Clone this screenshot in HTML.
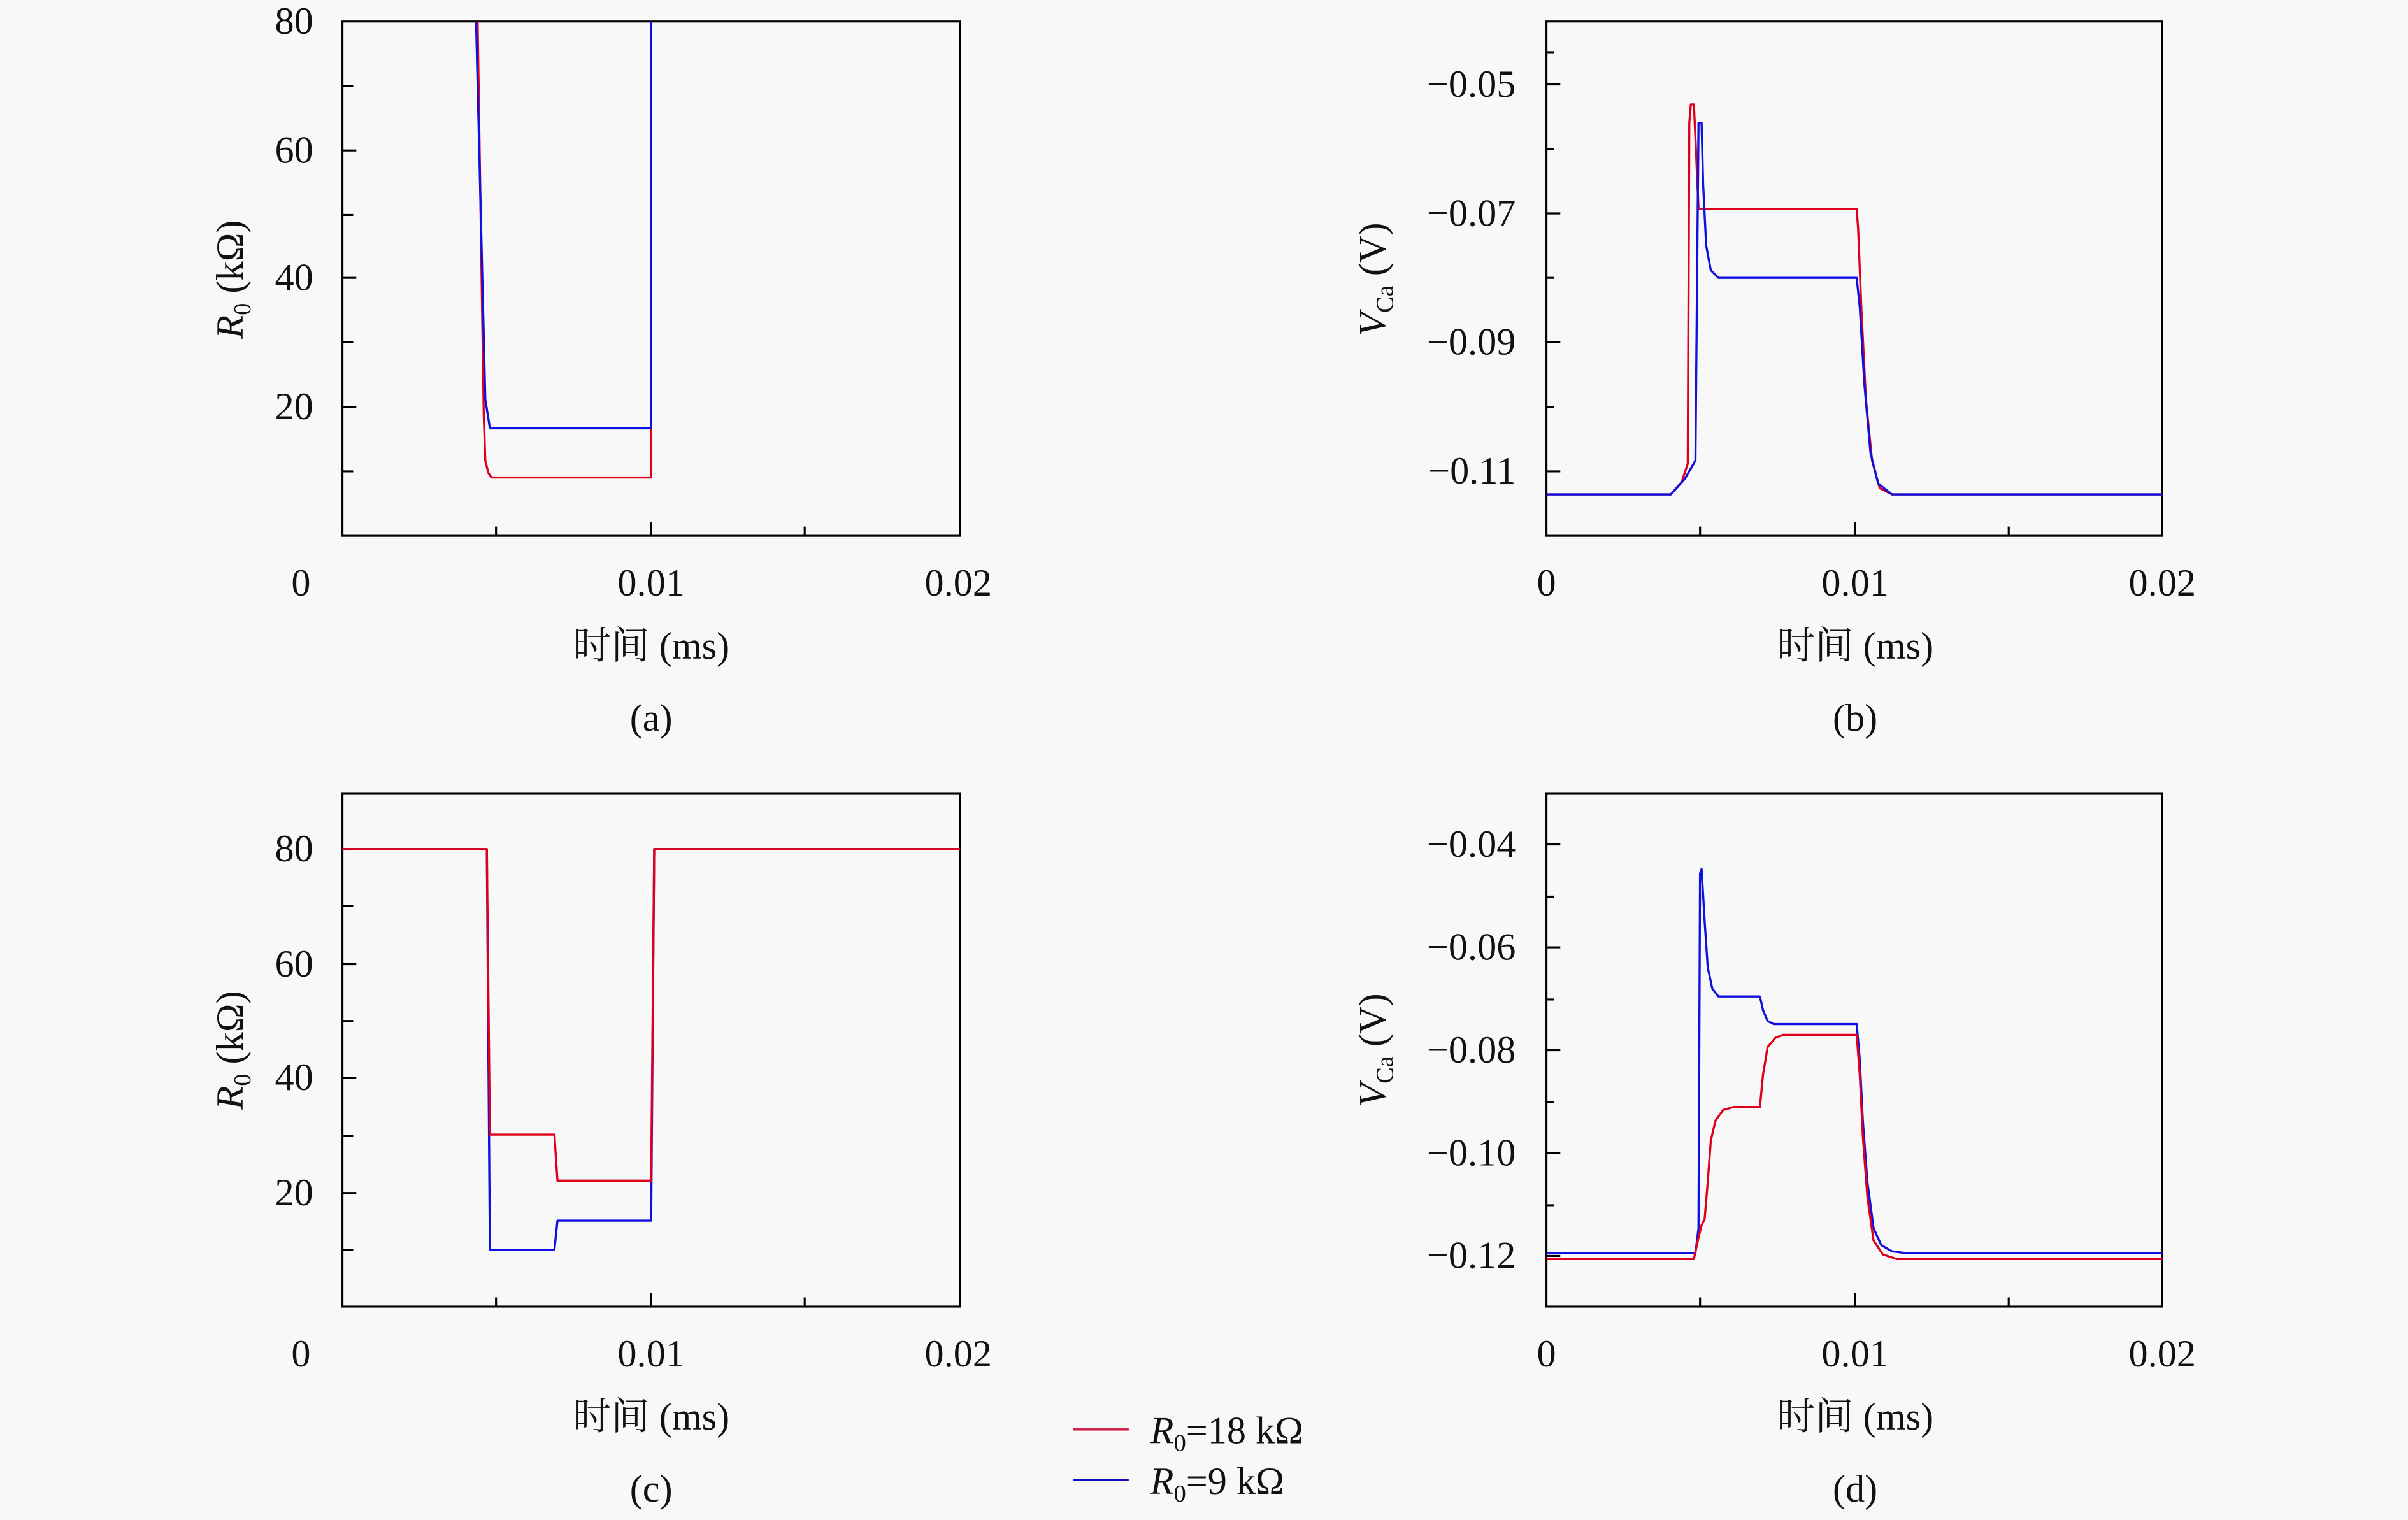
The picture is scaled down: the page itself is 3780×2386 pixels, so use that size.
<!DOCTYPE html>
<html><head><meta charset="utf-8"><style>
html,body{margin:0;padding:0;background:#f8f8f8;}
svg{display:block;}
text{font-family:"Liberation Serif","Noto Serif CJK SC",serif;font-size:25px;fill:#111;}
</style></head><body>
<svg width="3780" height="2386" viewBox="0 0 1568 990" preserveAspectRatio="none" xmlns="http://www.w3.org/2000/svg">
<rect width="1568" height="990" fill="#f8f8f8"/>
<g fill="none" stroke="#000" stroke-width="1.3">
<rect x="223" y="14" width="402" height="335"/>
<rect x="1007" y="14" width="401" height="335"/>
<rect x="223" y="517" width="402" height="334"/>
<rect x="1007" y="517" width="401" height="334"/>
<path d="M223 56h7M223 98h9M223 140h7M223 181h9M223 223h7M223 265h9M223 307h7M323 349v-6M424 349v-9M524 349v-6"/>
<path d="M1007 34h5M1007 55h9M1007 97h5M1007 139h9M1007 181h5M1007 223h9M1007 265h5M1007 307h9M1107 349v-6M1208 349v-9M1308 349v-6"/>
<path d="M223 553h9M223 590h7M223 628h9M223 665h7M223 702h9M223 740h7M223 777h9M223 814h7M323 851v-6M424 851v-9M524 851v-6"/>
<path d="M1007 550h9M1007 584h5M1007 617h9M1007 651h5M1007 684h9M1007 718h5M1007 751h9M1007 785h5M1007 818h9M1107 851v-6M1208 851v-9M1308 851v-6"/>
</g>
<g fill="none" stroke-width="1.4" stroke-linejoin="round">
<path stroke="#e0001b" d="M311 14L315 270L316 300L318 308L320 311H424V279"/>
<path stroke="#1010e0" d="M310 14L316 260L319 279H424V14"/>
<path stroke="#e0001b" d="M1007 322H1088L1095 314L1099 302L1100 80L1101 68L1103 68L1104 90L1106 136H1209L1210 150L1212 200L1215 260L1219 300L1224 318L1232 322H1408"/>
<path stroke="#1010e0" d="M1007 322H1088L1097 312L1104 300L1106 80L1108 80L1109 120L1111 160L1114 176L1119 181H1209L1211 200L1214 250L1218 295L1223 315L1232 322H1408"/>
<path stroke="#1010e0" d="M223 553H317L319 814H361L363 795H424L426 553H625"/>
<path stroke="#e0001b" d="M223 553H317L319 739H361L363 769H424L426 553H625"/>
<path stroke="#1010e0" d="M1007 816H1104L1106 800L1107 569L1108 566L1110 600L1112 630L1115 644L1119 649H1146L1148 658L1151 665L1155 667H1209L1211 690L1213 730L1216 770L1220 800L1225 811L1232 815L1240 816H1408"/>
<path stroke="#e0001b" d="M1007 820H1103L1106 806L1108 798L1110 794L1112 770L1114 743L1117 730L1122 723L1129 721H1146L1148 700L1151 682L1156 676L1161 674H1209L1211 700L1213 740L1216 780L1220 808L1226 817L1235 820H1408"/>
</g>
<g text-anchor="end">
<text x="204" y="22">80</text><text x="204" y="106">60</text><text x="204" y="189">40</text><text x="204" y="273">20</text>
<text x="204" y="561">80</text><text x="204" y="636">60</text><text x="204" y="710">40</text><text x="204" y="785">20</text>
<text x="987" y="63">−0.05</text><text x="987" y="147">−0.07</text><text x="987" y="231">−0.09</text><text x="987" y="315">−0.11</text>
<text x="987" y="558">−0.04</text><text x="987" y="625">−0.06</text><text x="987" y="692">−0.08</text><text x="987" y="759">−0.10</text><text x="987" y="826">−0.12</text>
</g>
<g text-anchor="middle">
<text x="196" y="388">0</text><text x="424" y="388">0.01</text><text x="624" y="388">0.02</text>
<text x="1007" y="388">0</text><text x="1208" y="388">0.01</text><text x="1408" y="388">0.02</text>
<text x="196" y="890">0</text><text x="424" y="890">0.01</text><text x="624" y="890">0.02</text>
<text x="1007" y="890">0</text><text x="1208" y="890">0.01</text><text x="1408" y="890">0.02</text>
<text x="424" y="429">时间 (ms)</text><text x="1208" y="429">时间 (ms)</text>
<text x="424" y="931">时间 (ms)</text><text x="1208" y="931">时间 (ms)</text>
<text x="424" y="476">(a)</text><text x="1208" y="476">(b)</text>
<text x="424" y="978">(c)</text><text x="1208" y="978">(d)</text>
</g>
<text transform="translate(158,182) rotate(-90)" text-anchor="middle"><tspan font-style="italic">R</tspan><tspan font-size="16" dy="5">0</tspan><tspan dy="-5">  (kΩ)</tspan></text>
<text transform="translate(158,684) rotate(-90)" text-anchor="middle"><tspan font-style="italic">R</tspan><tspan font-size="16" dy="5">0</tspan><tspan dy="-5">  (kΩ)</tspan></text>
<text transform="translate(902,182) rotate(-90)" text-anchor="middle"><tspan font-style="italic">V</tspan><tspan font-size="16" dy="5">Ca</tspan><tspan dy="-5">  (V)</tspan></text>
<text transform="translate(902,684) rotate(-90)" text-anchor="middle"><tspan font-style="italic">V</tspan><tspan font-size="16" dy="5">Ca</tspan><tspan dy="-5">  (V)</tspan></text>
<path d="M699 931H735" stroke="#d0103a" stroke-width="1.4"/>
<path d="M699 964H735" stroke="#1010c0" stroke-width="1.4"/>
<text x="749" y="940"><tspan font-style="italic">R</tspan><tspan font-size="16" dy="5">0</tspan><tspan dy="-5">=18 kΩ</tspan></text>
<text x="749" y="973"><tspan font-style="italic">R</tspan><tspan font-size="16" dy="5">0</tspan><tspan dy="-5">=9 kΩ</tspan></text>
</svg>
</body></html>
